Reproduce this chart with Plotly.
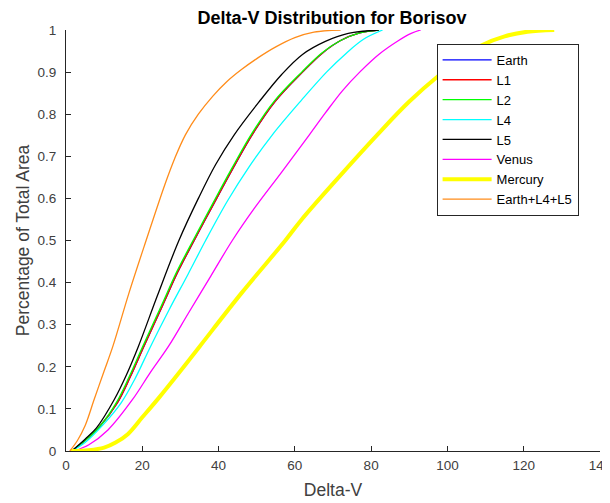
import plotly.graph_objects as go

# ---- data (Delta-V vs cumulative fraction) ----
earth_x = [1.5, 5, 9, 13.5, 16.8, 20.5, 25.3, 29.3, 33.6, 38.9, 43.7, 48.8, 54.8, 62.0, 67.2, 72, 77, 82]
earth_y = [0, 0.025, 0.06, 0.115, 0.175, 0.25, 0.345, 0.425, 0.5, 0.59, 0.67, 0.751, 0.83, 0.9, 0.945, 0.975, 0.993, 1.0]

l1_x = [1.5, 5, 9, 13.5, 16.8, 20.5, 25.3, 29.3, 33.6, 38.9, 43.7, 48.8, 54.8, 62.0, 67.2, 72, 77, 82]
l1_y = [0, 0.025, 0.06, 0.115, 0.175, 0.25, 0.345, 0.425, 0.5, 0.59, 0.67, 0.751, 0.83, 0.9, 0.945, 0.975, 0.993, 1.0]

l2_x = [1.5, 5, 9, 13.2, 16.5, 20.2, 25, 29, 33.3, 38.6, 43.4, 48.5, 54.5, 61.8, 67, 72, 77, 82]
l2_y = [0, 0.025, 0.06, 0.115, 0.175, 0.25, 0.345, 0.425, 0.5, 0.59, 0.67, 0.751, 0.83, 0.9, 0.945, 0.975, 0.993, 1.0]

l4_x = [1.5, 5, 10, 14.5, 18, 22.2, 27, 32, 36.6, 42.4, 48, 54.1, 61.8, 68.3, 73.5, 78, 83]
l4_y = [0, 0.02, 0.065, 0.115, 0.17, 0.249, 0.335, 0.42, 0.5, 0.595, 0.675, 0.751, 0.834, 0.9, 0.945, 0.978, 1.0]

l5_x = [1.5, 5, 8, 12.7, 15.8, 19, 24, 29.6, 34.7, 39.2, 44.1, 50.5, 56.6, 62, 68, 74, 82]
l5_y = [0, 0.028, 0.055, 0.123, 0.18, 0.249, 0.37, 0.5, 0.6, 0.68, 0.751, 0.828, 0.895, 0.942, 0.973, 0.992, 1.0]

venus_x = [2, 6, 11, 17.5, 22, 26.9, 32, 38, 43.6, 49.5, 56.5, 63.8, 68, 72.4, 77, 82, 87, 90.5, 93]
venus_y = [0, 0.015, 0.05, 0.123, 0.185, 0.249, 0.326, 0.416, 0.5, 0.578, 0.662, 0.751, 0.803, 0.855, 0.9, 0.942, 0.974, 0.992, 1.0]

mercury_x = [1.3, 6, 10, 13, 16.2, 20, 24.5, 30, 35.1, 46, 57.5, 61.8, 70, 81.6, 90, 97.9, 104, 109, 115, 121, 128]
mercury_y = [0, 0.002, 0.008, 0.02, 0.04, 0.08, 0.128, 0.19, 0.249, 0.375, 0.5, 0.55, 0.635, 0.751, 0.83, 0.893, 0.935, 0.964, 0.985, 0.996, 1.0]

combo_x = [1, 3, 5, 7.4, 10, 12.3, 16.5, 21, 26, 28.5, 31.3, 34.7, 38.5, 42, 46, 50.5, 55, 60, 65, 72]
combo_y = [0, 0.025, 0.06, 0.123, 0.19, 0.249, 0.375, 0.5, 0.635, 0.695, 0.751, 0.8, 0.843, 0.876, 0.906, 0.935, 0.96, 0.982, 0.995, 1.0]

x_ticks = [0, 20, 40, 60, 80, 100, 120, 140]
y_ticks = [0, 0.1, 0.2, 0.3, 0.4, 0.5, 0.6, 0.7, 0.8, 0.9, 1]
y_tick_text = ["0", "0.1", "0.2", "0.3", "0.4", "0.5", "0.6", "0.7", "0.8", "0.9", "1"]

series = [
    ("Earth", earth_x, earth_y, "#0000FF", 1.3),
    ("L1", l1_x, l1_y, "#FF0000", 1.3),
    ("L2", l2_x, l2_y, "#00FF00", 1.3),
    ("L4", l4_x, l4_y, "#00FFFF", 1.3),
    ("L5", l5_x, l5_y, "#000000", 1.3),
    ("Venus", venus_x, venus_y, "#FF00FF", 1.3),
    ("Mercury", mercury_x, mercury_y, "#FFFF00", 4),
    ("Earth+L4+L5", combo_x, combo_y, "#FF8C1A", 1.3),
]

fig = go.Figure()
for name, xs, ys, color, w in series:
    fig.add_trace(go.Scatter(x=xs, y=ys, mode="lines", name=name,
                             line=dict(color=color, width=w, shape="spline", smoothing=1.0)))

axis_color = "#262626"
text_gray = "#404040"
font_family = "Liberation Sans, Arial, Helvetica, sans-serif"

# the page body adds an 8px offset, so the figure is laid out 8px up/left
fig.update_layout(
    width=610, height=503,
    margin=dict(l=58, r=18, t=22, b=60),
    paper_bgcolor="white", plot_bgcolor="white",
    font=dict(family=font_family, color=axis_color, size=14),
    title=dict(text="<b>Delta-V Distribution for Borisov</b>", x=324 / 610, xanchor="center",
               y=1 - 9.5 / 503, yref="container", yanchor="middle",
               font=dict(size=18, color="#000000", family=font_family)),
    legend=dict(x=0.694, y=0.967, xanchor="left", yanchor="top",
                bgcolor="white", bordercolor=axis_color, borderwidth=1,
                font=dict(size=13, color="#000000"), tracegroupgap=0,
                itemwidth=49),
    showlegend=True,
)

fig.update_xaxes(range=[0, 140], tickvals=x_ticks, ticktext=[str(v) for v in x_ticks],
                 showline=True, linecolor=axis_color, linewidth=1,
                 ticks="inside", ticklen=5, tickcolor=axis_color,
                 showgrid=False, zeroline=False, mirror=False, automargin=False,
                 tickfont=dict(size=13.5, color=text_gray), ticklabelstandoff=2,
                 title=dict(text="Delta-V", font=dict(size=17.5, color=text_gray), standoff=11))
fig.update_yaxes(range=[0, 1], tickvals=y_ticks, ticktext=y_tick_text,
                 showline=True, linecolor=axis_color, linewidth=1,
                 ticks="inside", ticklen=5, tickcolor=axis_color,
                 showgrid=False, zeroline=False, mirror=False, automargin=False,
                 tickfont=dict(size=13.5, color=text_gray), ticklabelstandoff=6,
                 title=dict(text="Percentage of Total Area", font=dict(size=17.5, color=text_gray), standoff=3))

fig.write_html("out.html")
